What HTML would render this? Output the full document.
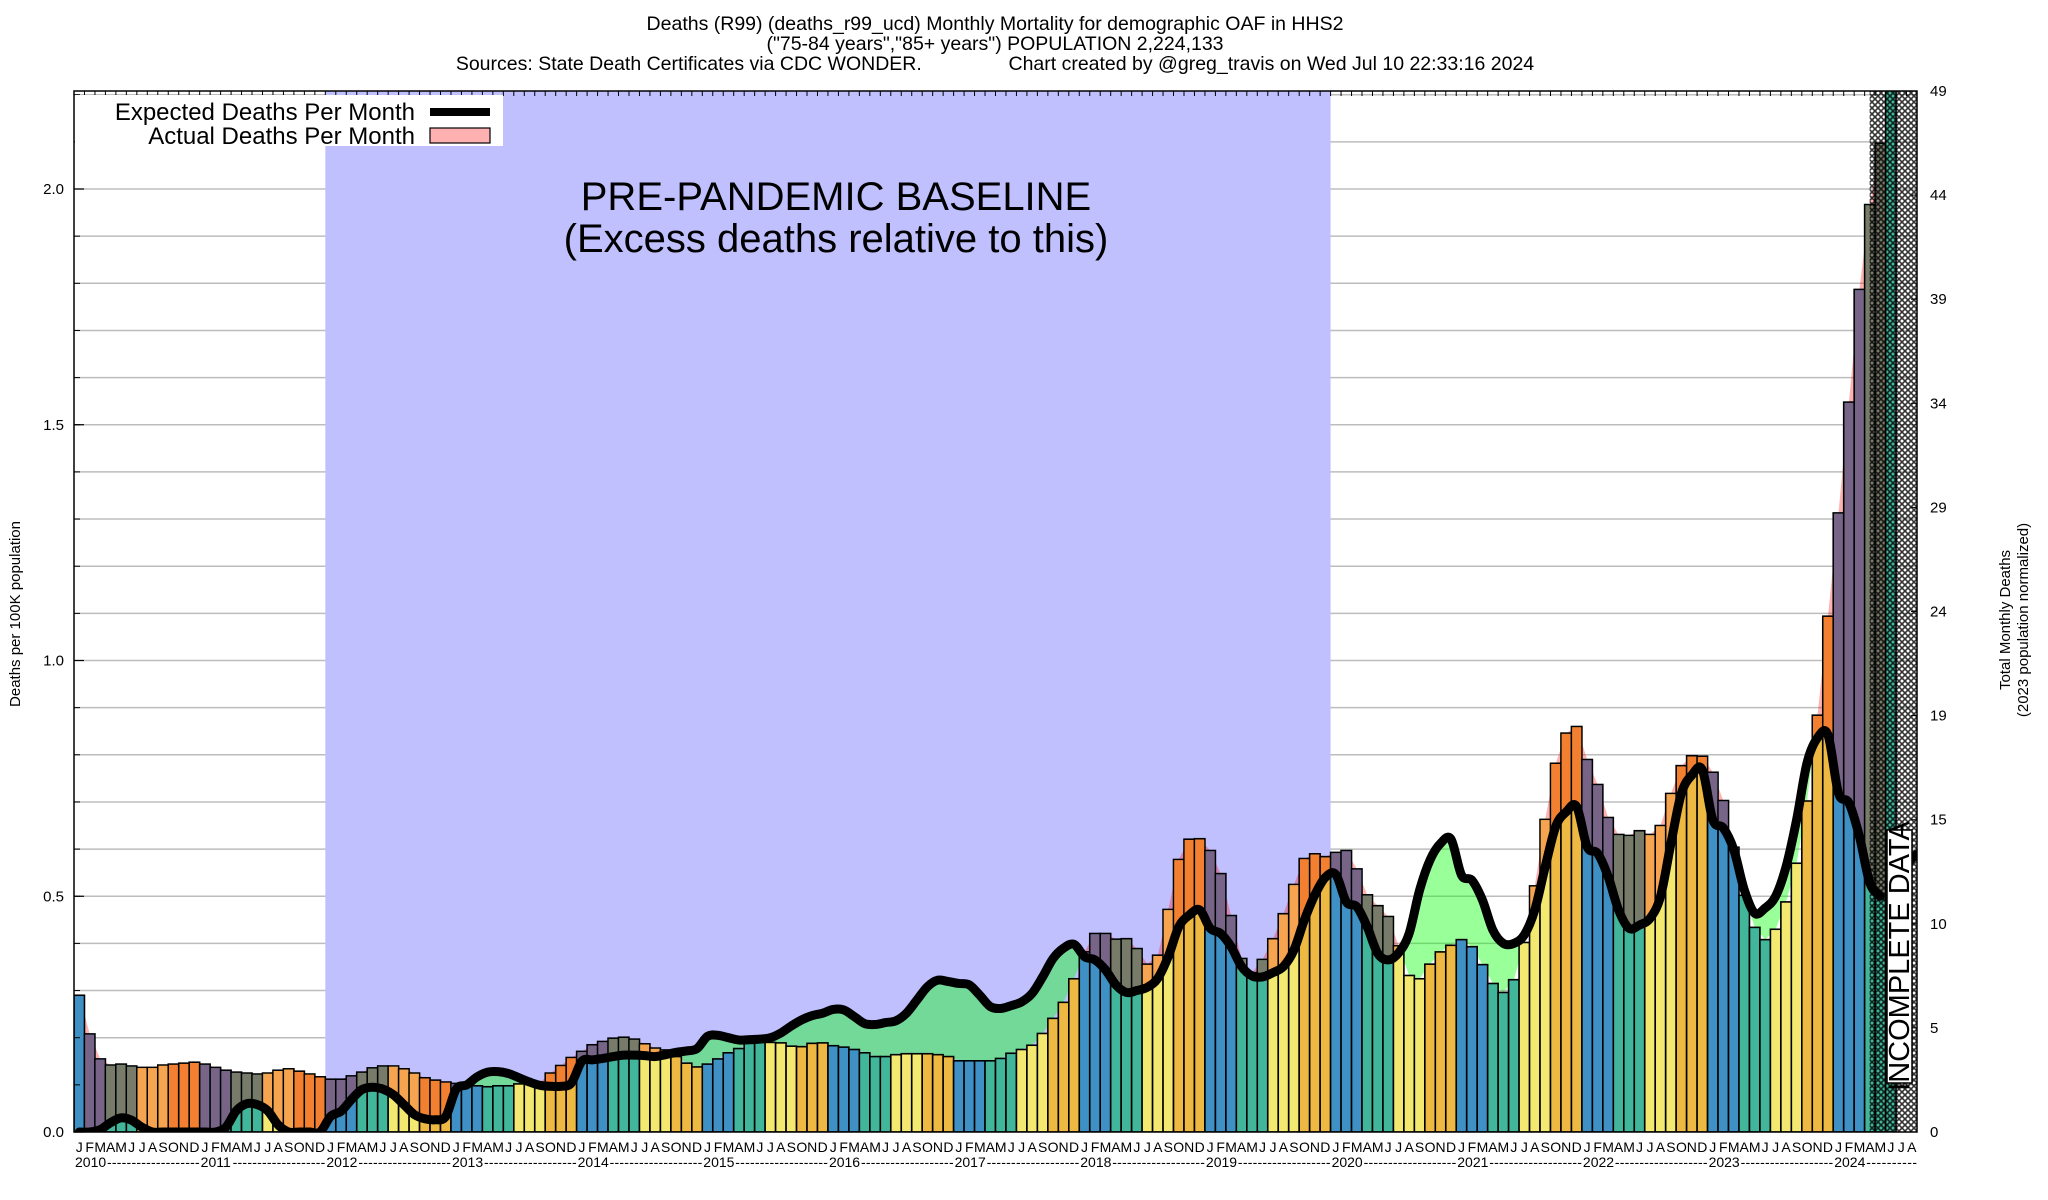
<!DOCTYPE html>
<html><head><meta charset="utf-8"><title>Deaths chart</title>
<style>
html,body{margin:0;padding:0;background:#fff;}
svg{display:block;font-family:"Liberation Sans",Arial,sans-serif;}
</style></head>
<body>
<svg id="chart" width="2048" height="1200" viewBox="0 0 2048 1200" xmlns="http://www.w3.org/2000/svg">
<defs>
<pattern id="hatch" width="6" height="6" patternUnits="userSpaceOnUse">
<path d="M0,0 L6,6 M6,0 L0,6" stroke="#000" stroke-width="1.6" fill="none"/>
</pattern>
<clipPath id="plotclip"><rect x="74" y="91" width="1843" height="1041"/></clipPath>
</defs>
<text x="995" y="30" font-size="19.5" text-anchor="middle">Deaths (R99) (deaths_r99_ucd) Monthly Mortality for demographic OAF in HHS2</text>
<text x="995" y="50" font-size="19.5" text-anchor="middle">("75-84 years","85+ years") POPULATION 2,224,133</text>
<text x="995" y="70" font-size="19.5" text-anchor="middle" xml:space="preserve">Sources: State Death Certificates via CDC WONDER.                Chart created by @greg_travis on Wed Jul 10 22:33:16 2024</text>
<g id="plot" clip-path="url(#plotclip)"></g>
<g id="axes"></g>
<text transform="translate(20,614) rotate(-90)" font-size="15" text-anchor="middle">Deaths per 100K population</text>
<text transform="translate(2010,620) rotate(-90)" font-size="15" text-anchor="middle">Total Monthly Deaths</text>
<text transform="translate(2028,620) rotate(-90)" font-size="15" text-anchor="middle">(2023 population normalized)</text>
</svg>
<script>
const actual = [
.29,.208,.155,.142,.144,.14,.137,.137,.142,.144,.146,.148,
.144,.137,.131,.127,.125,.123,.125,.131,.134,.129,.123,.117,
.112,.112,.119,.127,.136,.14,.14,.134,.125,.115,.11,.106,
.103,.098,.098,.096,.098,.098,.102,.106,.105,.125,.141,.158,
.171,.185,.192,.199,.201,.197,.187,.178,.174,.16,.146,.138,
.144,.155,.168,.177,.188,.19,.19,.189,.182,.181,.188,.189,
.183,.18,.175,.168,.16,.16,.164,.166,.166,.166,.164,.16,
.151,.151,.151,.151,.156,.167,.175,.184,.209,.241,.275,.325,
.382,.421,.421,.409,.41,.389,.356,.375,.472,.578,.621,.622,
.597,.548,.459,.368,.338,.366,.41,.463,.525,.58,.59,.584,
.593,.597,.558,.503,.48,.457,.395,.332,.325,.356,.382,.396,
.408,.393,.355,.315,.296,.323,.402,.522,.663,.782,.846,.86,
.79,.737,.667,.631,.629,.639,.631,.65,.718,.777,.798,.797,
.763,.703,.604,.502,.434,.408,.43,.488,.57,.702,.884,1.094,
1.313,1.548,1.787,1.967,2.097,2.5,null,null];
const expected = [
0,0,.005,.02,.03,.025,.01,0,0,0,0,0,
0,0,.01,.045,.06,.058,.045,.015,0,0,0,0,
.033,.044,.069,.09,.095,.091,.079,.058,.037,.028,.026,.033,
.091,.1,.117,.127,.128,.124,.115,.106,.099,.097,.097,.104,
.15,.153,.156,.16,.163,.163,.162,.16,.164,.169,.172,.177,
.203,.205,.2,.195,.196,.197,.2,.21,.225,.238,.247,.252,
.26,.259,.245,.23,.228,.232,.236,.252,.28,.308,.322,.319,
.315,.312,.29,.266,.262,.268,.276,.294,.329,.368,.39,.398,
.372,.365,.344,.312,.296,.3,.307,.326,.372,.435,.46,.471,
.432,.421,.393,.351,.331,.329,.338,.351,.386,.45,.503,.54,
.546,.488,.478,.435,.379,.365,.38,.421,.513,.577,.612,.621,
.545,.534,.492,.428,.4,.4,.418,.471,.563,.648,.679,.69,
.605,.591,.542,.471,.432,.439,.453,.499,.612,.718,.757,.768,
.662,.645,.599,.514,.464,.475,.5,.563,.662,.783,.836,.842,
.719,.698,.627,.528,.5,null,null,.585];
const monthLetters = ["J","F","M","A","M","J","J","A","S","O","N","D"];
const years = [2010,2011,2012,2013,2014,2015,2016,2017,2018,2019,2020,2021,2022,2023,2024];
const leftTicks = [0,0.5,1.0,1.5,2.0];
const leftTickLabels = ["0.0","0.5","1.0","1.5","2.0"];
const rightTickLabels = ["0","5","10","15","19","24","29","34","39","44","49"];
const baselineStart = 24, baselineEnd = 120, incompleteStart = 171;

const NS="http://www.w3.org/2000/svg";
const X0=74, X1=1917, Y0=1132, Y1=91, N=actual.length;
const MW=(X1-X0)/N, YS=471.5;
const xm = m => X0 + m*MW;
const xc = m => X0 + (m+0.5)*MW;
const yv = v => Y0 - v*YS;
const defC=["#3f91c5","#42b69a","#f3e970","#eeb942"];
const excC=["#786486","#787b69","#f6a44f","#f28030"];
function mk(tag, attrs, parent){const e=document.createElementNS(NS,tag);for(const k in attrs)e.setAttribute(k,attrs[k]);parent.appendChild(e);return e;}
const plot=document.getElementById('plot'), axes=document.getElementById('axes'), svg=document.getElementById('chart');

for(let i=1;i<=22;i++){
  const l=mk('line',{x1:X0,x2:X1,y1:yv(i/10),y2:yv(i/10),stroke:'#bdbdbd','stroke-width':1.5},plot);
  
  
}
const band=mk('rect',{x:xm(baselineStart),y:Y1,width:xm(baselineEnd)-xm(baselineStart),height:Y0-Y1,fill:'#c0c0ff'},plot);



function smooth(pts){
  let d='M'+pts[0][0]+','+pts[0][1];
  for(let i=0;i<pts.length-1;i++){
    const p0=pts[i-1]||pts[i],p1=pts[i],p2=pts[i+1],p3=pts[i+2]||p2;
    const c1=[p1[0]+(p2[0]-p0[0])/6,p1[1]+(p2[1]-p0[1])/6];
    const c2=[p2[0]-(p3[0]-p1[0])/6,p2[1]-(p3[1]-p1[1])/6];
    d+=' C'+c1[0]+','+c1[1]+' '+c2[0]+','+c2[1]+' '+p2[0]+','+p2[1];
  }
  return d;
}
const ePts=[];for(let m=0;m<N;m++){if(expected[m]==null)break;ePts.push([xc(m),yv(expected[m])]);}
const lastE=ePts.length;
const ePath=smooth(ePts);
const defs=svg.querySelector('defs');
const cpA=mk('clipPath',{id:'aboveE'},defs);
mk('path',{d:ePath+' L'+X1+','+ePts[lastE-1][1]+' L'+X1+','+Y1+' L'+X0+','+Y1+' L'+X0+','+ePts[0][1]+' Z'},cpA);
const cpB=mk('clipPath',{id:'belowE'},defs);
mk('path',{d:ePath+' L'+X1+','+ePts[lastE-1][1]+' L'+X1+','+Y0+' L'+X0+','+Y0+' L'+X0+','+ePts[0][1]+' Z'},cpB);
const aPts=[];for(let m=0;m<lastE;m++){aPts.push([xc(m),yv(actual[m])]);}
let fd='M'+aPts.map(p=>p[0]+','+p[1]).join(' L');
const rev=ePts.slice().reverse();
fd+=' L'+rev.map(p=>p[0]+','+p[1]).join(' L')+' Z';
const fe=mk('path',{d:fd,fill:'rgb(255,0,0)','fill-opacity':0.3,'clip-path':'url(#aboveE)'},plot);


const fg=mk('path',{d:fd,fill:'rgb(0,255,0)','fill-opacity':0.4,'clip-path':'url(#belowE)'},plot);



for(let m=0;m<N;m++){
  const v=actual[m]; if(v==null) continue;
  const s=Math.floor((m%12)/3);
  const e=expected[m]==null?v:expected[m];
  const b=mk('rect',{x:xm(m),y:yv(v),width:MW,height:v*YS,fill:defC[s],stroke:'#000','stroke-width':1.6},plot);
  
  
  if(v>e && m>0){
    const ex=mk('rect',{x:xm(m)+0.8,y:yv(v)+0.8,width:MW-1.6,height:(v-e)*YS-0.8,fill:excC[s]},plot);
    
    
  }
}
const el=mk('path',{d:ePath,fill:'none',stroke:'#000','stroke-width':9,'stroke-linejoin':'round','stroke-linecap':'round'},plot);


for(let m=lastE;m<N;m++){ if(expected[m]!=null){
  const st=mk('line',{x1:xc(m)-4,x2:xc(m)+6,y1:yv(expected[m])+8,y2:yv(expected[m])-4,stroke:'#000','stroke-width':8},plot);
  
  
}}
const h=mk('rect',{x:xm(incompleteStart)+5,y:Y1,width:X1-xm(incompleteStart)-5,height:Y0-Y1,fill:'url(#hatch)','fill-opacity':0.8},plot);



const t1=mk('text',{x:836,y:210,'font-size':40,'text-anchor':'middle'},svg);t1.textContent='PRE-PANDEMIC BASELINE';


const t2=mk('text',{x:836,y:252,'font-size':40,'text-anchor':'middle'},svg);t2.textContent='(Excess deaths relative to this)';


const ib=mk('rect',{x:1887,y:830,width:25,height:253,fill:'#fff',stroke:'#000','stroke-width':1.5},svg);


const it=mk('text',{transform:'translate(1909,956) rotate(-90)','font-size':29,'text-anchor':'middle'},svg);it.textContent='INCOMPLETE DATA';



const lg=mk('g',{},svg);


mk('rect',{x:75,y:95,width:428,height:51,fill:'#fff'},lg);
const l1=mk('text',{x:415,y:120,'font-size':24,'text-anchor':'end'},lg);l1.textContent='Expected Deaths Per Month';


const l2=mk('text',{x:415,y:144,'font-size':24,'text-anchor':'end'},lg);l2.textContent='Actual Deaths Per Month';


mk('rect',{x:430,y:108,width:60,height:8,fill:'#000'},lg);
mk('rect',{x:430,y:128,width:60,height:15,fill:'#ffb0b0',stroke:'#000','stroke-width':1.2},lg);

const fr=mk('rect',{x:X0,y:Y1,width:X1-X0,height:Y0-Y1,fill:'none',stroke:'#000','stroke-width':1.5},axes);


for(let m=1;m<N;m++){ mk('line',{x1:xm(m),x2:xm(m),y1:Y1,y2:Y1+5,stroke:'#000','stroke-width':1},axes); }
for(let i=1;i<=22;i++){ mk('line',{x1:X0,x2:X0+6,y1:yv(i/10),y2:yv(i/10),stroke:'#000','stroke-width':1},axes); }
leftTicks.forEach((v,i)=>{
  const t=mk('text',{x:X0-10,y:yv(v)+5,'font-size':15,'text-anchor':'end'},axes);t.textContent=leftTickLabels[i];
  
  
  mk('line',{x1:X0,x2:X0+10,y1:yv(v),y2:yv(v),stroke:'#000','stroke-width':1.2},axes);
});
rightTickLabels.forEach((lab,i)=>{
  const y=Y0-(Y0-Y1)*i/10;
  const t=mk('text',{x:1930,y:y+5,'font-size':15},axes);t.textContent=lab;
  
  
  mk('line',{x1:X1-6,x2:X1,y1:y,y2:y,stroke:'#000','stroke-width':1},axes);
});
for(let m=0;m<N;m++){
  const t=mk('text',{x:xc(m),y:1152,'font-size':14,'text-anchor':'middle'},axes);t.textContent=monthLetters[m%12];
  
  
}
years.forEach((yr,i)=>{
  const xs=xm(i*12), xe=Math.min(xm(i*12+12),X1);
  const t=mk('text',{x:xs+1,y:1167,'font-size':14},axes);t.textContent=String(yr);
  
  
  const d=mk('text',{x:xs+33,y:1167,'font-size':14,textLength:Math.max(10,xe-xs-33),lengthAdjust:'spacing'},axes);
  d.textContent='-'.repeat(Math.max(2,Math.round((xe-xs-33)/5)));
  
  
});
</script>
</body></html>
